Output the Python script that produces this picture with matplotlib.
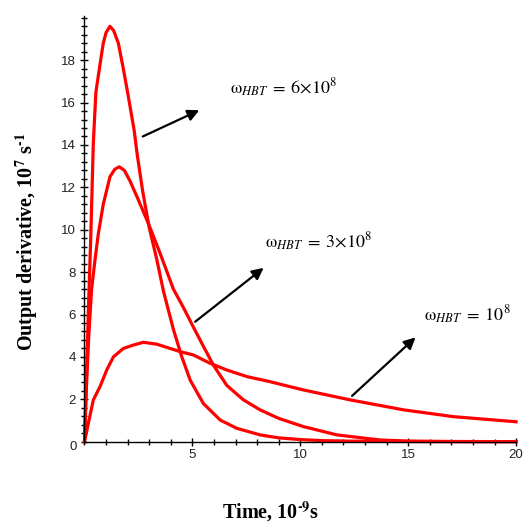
import matplotlib
matplotlib.use("Agg")
import matplotlib.pyplot as plt
from matplotlib.ticker import MultipleLocator

plt.rcParams["mathtext.fontset"] = "stix"

# curve values (time in ns, derivative in 1e7 1/s)
t_a = [0, 0.1, 0.2, 0.29, 0.41, 0.53, 0.72, 0.87, 1.0, 1.18, 1.35, 1.57, 1.8, 2.03, 2.3, 2.45,
       2.7, 3.0, 3.35, 3.66, 4.12, 4.51, 4.9, 5.51, 6.29, 7.06, 8.14, 9.0, 10.0, 11.0, 12.0,
       14.0, 17.0, 20.0]
y_a = [0, 3.4, 6.8, 9.6, 14.1, 16.5, 17.8, 18.8, 19.3, 19.6, 19.4, 18.8, 17.6, 16.3, 14.7, 13.5,
       11.8, 10.1, 8.6, 7.1, 5.3, 4.0, 2.9, 1.8, 1.02, 0.63, 0.32, 0.18, 0.1, 0.05, 0.03,
       0.01, 0.0, 0.0]

t_b = [0, 0.05, 0.1, 0.2, 0.33, 0.49, 0.64, 0.87, 1.18, 1.4, 1.61, 1.85, 2.11, 2.5, 2.96, 3.5,
       4.12, 4.6, 5.05, 5.51, 5.98, 6.6, 7.37, 8.14, 9.0, 10.15, 11.7, 13.7, 15.0, 17.0, 20.0]
y_b = [0, 1.4, 2.8, 5.0, 7.2, 8.6, 9.8, 11.2, 12.5, 12.85, 12.97, 12.8, 12.3, 11.4, 10.3, 8.9,
       7.2, 6.3, 5.4, 4.5, 3.6, 2.65, 1.97, 1.5, 1.1, 0.71, 0.32, 0.08, 0.03, 0.01, 0.0]

t_c = [0, 0.18, 0.41, 0.72, 1.03, 1.34, 1.8, 2.27, 2.73, 3.35, 3.97, 4.43, 5.05, 5.82, 6.6,
       7.53, 8.6, 10.15, 12.32, 14.8, 17.1, 20.0]
y_c = [0, 0.87, 1.97, 2.6, 3.38, 4.0, 4.4, 4.56, 4.69, 4.6, 4.4, 4.25, 4.09, 3.7, 3.38,
       3.07, 2.83, 2.44, 1.97, 1.5, 1.18, 0.94]

labels = [r"$\mathrm{\omega}_{HBT}\;=\;6{\times}10^{8}$",
          r"$\mathrm{\omega}_{HBT}\;=\;3{\times}10^{8}$",
          r"$\mathrm{\omega}_{HBT}\;=\;10^{8}$"]
label_pos = [(6.75, 16.7), (8.37, 9.45), (15.72, 5.97)]
arrow_tail = [(2.7, 14.4), (5.13, 5.66), (12.4, 2.16)]
arrow_head = [(5.32, 15.64), (8.3, 8.2), (15.34, 4.92)]

fig = plt.figure(figsize=(5.27, 5.25), dpi=100)
ax = fig.add_axes([0.1603, 0.1587, 0.819, 0.8114])

for t, y in [(t_a, y_a), (t_b, y_b), (t_c, y_c)]:
    ax.plot(t, y, color="#ff0000", lw=2.3, clip_on=False)

ax.set_xlim(0, 20)
ax.set_ylim(0, 20.1)

for s in ["top", "right"]:
    ax.spines[s].set_visible(False)
for s in ["left", "bottom"]:
    ax.spines[s].set_linewidth(1.0)

ax.xaxis.set_major_locator(MultipleLocator(5))
ax.xaxis.set_minor_locator(MultipleLocator(1))
ax.yaxis.set_major_locator(MultipleLocator(2))
ax.yaxis.set_minor_locator(MultipleLocator(0.4))
ax.tick_params(which="both", direction="inout", width=1.0, colors="black")
ax.tick_params(which="major", length=6)
ax.tick_params(which="minor", length=5)
ax.tick_params(axis="y", which="major", pad=3)
ax.tick_params(axis="x", which="major", pad=2)

ax.set_xticks([5, 10, 15, 20])
ax.set_yticks(list(range(2, 19, 2)))
for lab in ax.get_xticklabels() + ax.get_yticklabels():
    lab.set_fontfamily("Liberation Sans")
    lab.set_fontsize(9.5)
    lab.set_color("#222222")
ax.annotate("0", xy=(0, 0), xytext=(-8, -4), textcoords="offset points",
            ha="center", va="center", fontsize=9.5, family="Liberation Sans", color="#222222")

for txt, pos, tail, head in zip(labels, label_pos, arrow_tail, arrow_head):
    ax.text(pos[0], pos[1], txt, ha="left", va="center", fontsize=13)
    ax.annotate("", xy=head, xytext=tail,
                arrowprops=dict(arrowstyle="-|>", color="black", lw=1.6,
                                mutation_scale=17, shrinkA=0, shrinkB=0))

fig.text(27 / 527, 1 - 242 / 525, r"Output derivative, 10$^{\mathbf{7}}$ s$^{\mathbf{‐1}}$",
         rotation=90, ha="center", va="center", fontsize=14.5, fontweight="bold",
         family="Liberation Serif")
fig.text(271 / 527, 1 - 512 / 525, r"Time, 10$^{\mathbf{‐9}}$s",
         ha="center", va="center", fontsize=14.5, fontweight="bold",
         family="Liberation Serif")

fig.savefig("out.png", dpi=100)
